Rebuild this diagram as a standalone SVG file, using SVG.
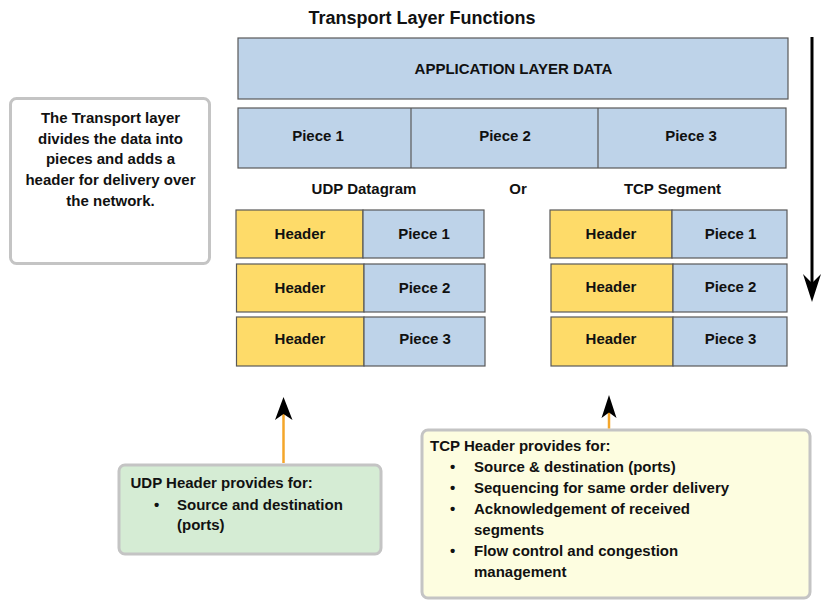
<svg xmlns="http://www.w3.org/2000/svg" width="827" height="607" viewBox="0 0 827 607">
<style>
text{font-family:"Liberation Sans",Arial,sans-serif;font-weight:bold;font-size:15px;fill:#111}
.c{text-anchor:middle}
.blue{fill:#bed3e9;stroke:#595959;stroke-width:1.2}
.yel{fill:#fedb69;stroke:#595959;stroke-width:1.2}
.note{stroke:#c4c4c4;stroke-width:3}
.orange{stroke:#f4a62a;stroke-width:2.5}
</style>
<rect width="827" height="607" fill="#fff"/>
<text id="title" class="c" x="422" y="23.5" style="font-size:18px">Transport Layer Functions</text>

<g id="appdata">
<rect class="blue" x="238" y="38" width="550" height="61"/>
<text class="c" x="513.5" y="74">APPLICATION LAYER DATA</text>
</g>

<g id="pieces">
<rect class="blue" x="238" y="108" width="548" height="60"/>
<line x1="411" y1="108" x2="411" y2="168" stroke="#595959" stroke-width="1.2"/>
<line x1="598" y1="108" x2="598" y2="168" stroke="#595959" stroke-width="1.2"/>
<text class="c" x="318" y="141">Piece 1</text>
<text class="c" x="505" y="141">Piece 2</text>
<text class="c" x="691" y="141">Piece 3</text>
</g>

<text class="c" x="364" y="193.5">UDP Datagram</text>
<text class="c" x="518" y="193.5">Or</text>
<text class="c" x="672.5" y="193.5">TCP Segment</text>

<g id="udp1">
<rect class="yel" x="236" y="210" width="127" height="48"/>
<rect class="blue" x="363" y="210" width="121" height="48"/>
<text class="c" x="300" y="238.5">Header</text>
<text class="c" x="424" y="238.5">Piece 1</text>
</g>
<g id="udp2">
<rect class="yel" x="236.5" y="264" width="127.5" height="48"/>
<rect class="blue" x="364" y="264" width="121" height="48"/>
<text class="c" x="300" y="292.5">Header</text>
<text class="c" x="424.5" y="292.5">Piece 2</text>
</g>
<g id="udp3">
<rect class="yel" x="236.5" y="317" width="127.5" height="49"/>
<rect class="blue" x="364" y="317" width="121" height="49"/>
<text class="c" x="300" y="343.5">Header</text>
<text class="c" x="425" y="343.5">Piece 3</text>
</g>

<g id="tcp1">
<rect class="yel" x="550" y="210" width="122" height="48"/>
<rect class="blue" x="672" y="210" width="115" height="48"/>
<text class="c" x="611" y="238.5">Header</text>
<text class="c" x="730.5" y="238.5">Piece 1</text>
</g>
<g id="tcp2">
<rect class="yel" x="551" y="264" width="122" height="48"/>
<rect class="blue" x="673" y="264" width="114" height="48"/>
<text class="c" x="611" y="291.5">Header</text>
<text class="c" x="730.5" y="291.5">Piece 2</text>
</g>
<g id="tcp3">
<rect class="yel" x="551" y="317" width="122" height="49"/>
<rect class="blue" x="673" y="317" width="114" height="49"/>
<text class="c" x="611" y="343.5">Header</text>
<text class="c" x="730.5" y="343.5">Piece 3</text>
</g>

<g id="intro">
<rect class="note" x="10.5" y="98.5" width="199" height="165" rx="6" fill="#fff"/>
<text class="c" x="110.5" y="122.5">The Transport layer</text>
<text class="c" x="110.5" y="143.5">divides the data into</text>
<text class="c" x="110.5" y="164">pieces and adds a</text>
<text class="c" x="110.5" y="185">header for delivery over</text>
<text class="c" x="110.5" y="206">the network.</text>
</g>

<g id="udpnote">
<rect class="note" x="119" y="465" width="262" height="89" rx="6" fill="#d5ecd4"/>
<text x="130.5" y="488">UDP Header provides for:</text>
<text x="154" y="509.5">•</text>
<text x="177" y="509.5">Source and destination</text>
<text x="177" y="530">(ports)</text>
</g>

<g id="tcpnote">
<rect class="note" x="422" y="430" width="388" height="168" rx="6" fill="#fdfde0"/>
<text x="430" y="451">TCP Header provides for:</text>
<text x="450" y="472">•</text>
<text x="474" y="472">Source &amp; destination (ports)</text>
<text x="450" y="493">•</text>
<text x="474" y="493">Sequencing for same order delivery</text>
<text x="450" y="514">•</text>
<text x="474" y="514">Acknowledgement of received</text>
<text x="474" y="535">segments</text>
<text x="450" y="556">•</text>
<text x="474" y="556">Flow control and congestion</text>
<text x="474" y="577">management</text>
</g>

<g id="connectors">
<line x1="812" y1="37" x2="812" y2="285" stroke="#000" stroke-width="3"/>
<polygon points="812,302 803,274 812,283 821,274" fill="#000"/>
<line class="orange" x1="283.5" y1="463" x2="283.5" y2="412"/>
<polygon points="283.5,397 275,420 283.5,414 292.5,420" fill="#000"/>
<line class="orange" x1="609" y1="428.5" x2="609" y2="410"/>
<polygon points="609,395 601.5,418 609,412.5 616.5,418" fill="#000"/>
</g>
</svg>
